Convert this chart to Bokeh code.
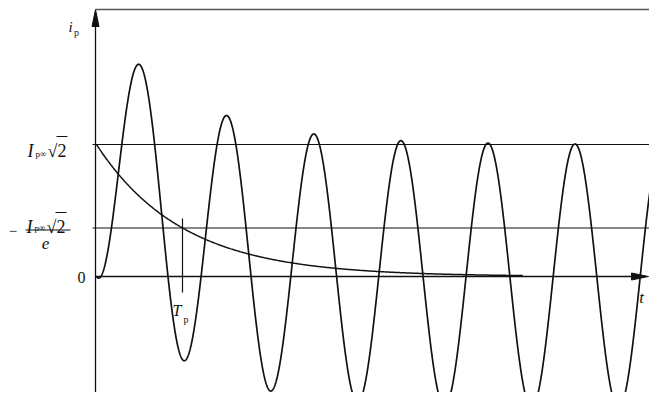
import numpy as np
from bokeh.plotting import figure
from bokeh.models import Range1d, Label
from bokeh.embed import file_html
from bokeh.resources import INLINE

# ---- quantities ----------------------------------------------------------
# time in units of the oscillation period P, current in units of I_p∞·√2
period = 1.0                 # P
time_constant = 86.0 / 87.0  # T_p / P  (decay curve meets I√2/e at t = T_p)
amplitude = 1.0              # I_p∞ √2
t_stop = 6.53                # end of the drawn waveform
decay_stop = 4.90            # end of the drawn decay curve
level_names = ["I√2", "I√2/e", "0"]
level_values = [amplitude, amplitude / np.e, 0.0]

# ---- layout (reference pixels -> data) -----------------------------------
W, H = 649, 392
OFF = 0
T0_PX, ZERO_PX = 96.0, 276.0
PX_PER_P, PX_PER_A = 87.0, 132.0


def dx(rx):
    return (rx - T0_PX) / PX_PER_P


def dy(ry):
    return (ZERO_PX - ry) / PX_PER_A


INK = "#111111"
SERIF = "Liberation Serif"

p = figure(width=W, height=H,
           x_range=Range1d(dx(OFF), dx(OFF + W)),
           y_range=Range1d(dy(OFF + H), dy(OFF)),
           output_backend="svg", toolbar_location=None,
           x_axis_location=None, y_axis_location=None,
           min_border=0)
p.grid.visible = False
p.outline_line_color = None
p.background_fill_color = "white"
p.border_fill_color = "white"

RIGHT = OFF + W

# ---- axes and frame -------------------------------------------------------
ax = dx(95)
p.line([ax, ax], [dy(OFF + H), dy(24)], line_color=INK, line_width=1.3)
p.patch([dx(91.5), ax, dx(98.5)], [dy(26), dy(9), dy(26)], color=INK)
p.line([ax, dx(RIGHT)], [dy(9), dy(9)], line_color="#555555", line_width=1.5)

p.line([ax, dx(RIGHT - 16)], [0, 0], line_color=INK, line_width=1.3)
p.patch([dx(RIGHT - 18), dx(RIGHT - 1), dx(RIGHT - 18)],
        [dy(272.5), dy(276), dy(279.5)], color=INK)

# reference levels I√2 and I√2/e
for lv in level_values[:2]:
    p.line([dx(92), dx(RIGHT)], [lv, lv], line_color=INK, line_width=1.1)

# ---- curves ---------------------------------------------------------------
t = np.linspace(0, t_stop, 2000)
decay = amplitude * np.exp(-t / time_constant)
wave = decay - amplitude * np.cos(2 * np.pi * t / period)
p.line(t, wave, line_color=INK, line_width=1.7)

td = np.linspace(0, decay_stop, 600)
p.line(td, amplitude * np.exp(-td / time_constant), line_color=INK, line_width=1.5)

# T_p marker
p.line([time_constant, time_constant], [dy(218), dy(292)], line_color=INK, line_width=1.2)


# ---- labels ---------------------------------------------------------------
def lab(text, rx, ry, size, italic=False, align="left", baseline="alphabetic"):
    p.add_layout(Label(x=dx(rx), y=dy(ry), text=text, text_font=SERIF,
                       text_font_size=f"{size}px",
                       text_font_style="italic" if italic else "normal",
                       text_color=INK, text_align=align, text_baseline=baseline))


# i_p (ordinate)
lab("i", 70, 26, 15, italic=True, align="center")
lab("p", 76, 32, 10, align="center")

# I_p∞ √2
lab("I", 27, 150, 18, italic=True)
lab("p∞", 35, 153, 9)
lab("√2", 47, 150, 18)
p.line([dx(56), dx(67)], [dy(136), dy(136)], line_color=INK, line_width=1)

# − I_p∞ √2 / e
lab("−", 12.5, 230, 15, align="center", baseline="middle")
lab("I", 26, 226, 18, italic=True)
lab("p∞", 34, 227.5, 9)
lab("√2", 46, 226, 18)
p.line([dx(55), dx(66)], [dy(212), dy(212)], line_color=INK, line_width=1)
p.line([dx(25), dx(70)], [dy(229.5), dy(229.5)], line_color=INK, line_width=1.2)
lab("e", 45, 243, 17, italic=True, align="center")

# 0, t, T_p
lab(level_names[2], 81, 277, 16, align="center", baseline="middle")
lab("t", RIGHT - 8, 297, 17, italic=True, align="center")
lab("T", 172, 310, 16, italic=True)
lab("p", 183, 319, 10)

open("out.html", "w").write(file_html(p, INLINE))
